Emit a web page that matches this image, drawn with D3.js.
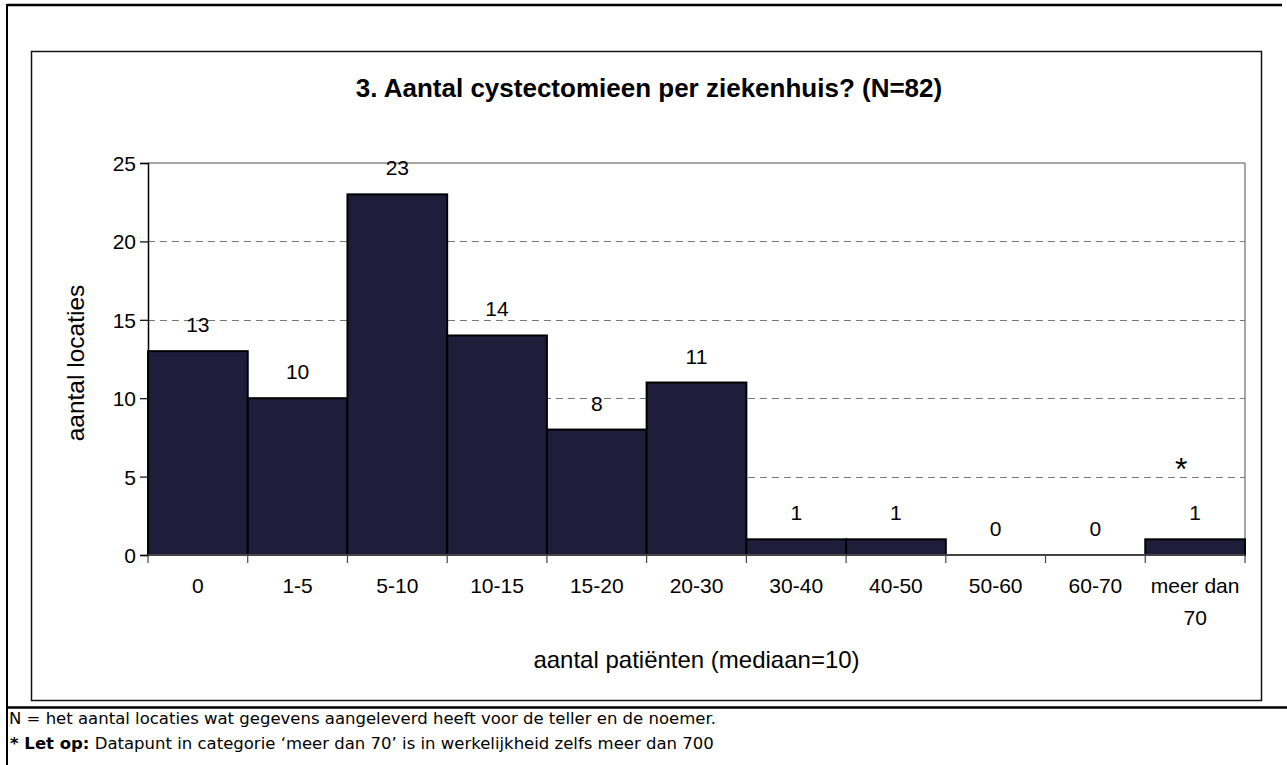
<!DOCTYPE html>
<html>
<head>
<meta charset="utf-8">
<script src="https://cdn.jsdelivr.net/npm/d3@7"></script>
<style>
  body { margin: 0; background: #fff; }
  svg { display: block; }
  .lbl { font-family: "Liberation Sans", Arial, sans-serif; font-size: 21px; fill: #000; }
  .foot { font-family: "DejaVu Sans", Verdana, sans-serif; font-size: 16.5px; fill: #000; }
</style>
</head>
<body>
<svg id="chart" width="1287" height="765"></svg>
<script>
// categories (aantal patienten) and number of locations
var categories = ["0", "1-5", "5-10", "10-15", "15-20", "20-30", "30-40", "40-50", "50-60", "60-70", "meer dan 70"];
var counts = [13, 10, 23, 14, 8, 11, 1, 1, 0, 0, 1];
var yTicks = [0, 5, 10, 15, 20, 25];

var title = "3. Aantal cystectomieen per ziekenhuis? (N=82)";
var xTitle = "aantal patiënten (mediaan=10)";
var yTitle = "aantal locaties";
var noteMark = { category: "meer dan 70", value: 6, text: "*" };
var footLine1 = "N = het aantal locaties wat gegevens aangeleverd heeft voor de teller en de noemer.";
var footLine2 = "Datapunt in categorie \u2018meer dan 70\u2019 is in werkelijkheid zelfs meer dan 700";

var svg = d3.select("#chart");

//***************************************************************************
// frames

svg.append("line").attr("x1", 7).attr("x2", 1282).attr("y1", 5).attr("y2", 5)
    .attr("stroke", "#000").attr("stroke-width", 2.5);
svg.append("line").attr("x1", 7).attr("x2", 7).attr("y1", 4).attr("y2", 765)
    .attr("stroke", "#000").attr("stroke-width", 2);
svg.append("line").attr("x1", 7).attr("x2", 1287).attr("y1", 707.5).attr("y2", 707.5)
    .attr("stroke", "#000").attr("stroke-width", 2.5);

svg.append("rect").attr("x", 31.5).attr("y", 51.5).attr("width", 1230).attr("height", 649)
    .attr("fill", "none").attr("stroke", "#111").attr("stroke-width", 1.5);

//***************************************************************************
// scales

var plotL = 148, plotR = 1245, plotT = 163, plotB = 555;

var x = d3.scaleBand()
    .domain(categories)
    .range([plotL, plotR])
    .padding(0);

var y = d3.scaleLinear()
    .domain([0, 25])
    .range([plotB, plotT]);

var plot = svg.append("g");

// plot area border (top + right, grey)
plot.append("line").attr("x1", plotL).attr("x2", plotR).attr("y1", plotT).attr("y2", plotT)
    .attr("stroke", "#888").attr("stroke-width", 1.5);
plot.append("line").attr("x1", plotR).attr("x2", plotR).attr("y1", plotT).attr("y2", plotB)
    .attr("stroke", "#888").attr("stroke-width", 1.5);

// dashed gridlines
plot.selectAll("line.grid")
    .data(yTicks.filter(function(d) { return d > 0 && d < 25; }))
    .enter().append("line")
    .attr("class", "grid")
    .attr("x1", plotL).attr("x2", plotR)
    .attr("y1", function(d) { return Math.round(y(d)) + 0.5; })
    .attr("y2", function(d) { return Math.round(y(d)) + 0.5; })
    .attr("stroke", "#777").attr("stroke-width", 1)
    .attr("stroke-dasharray", "7,5");

//***************************************************************************
// bars

plot.selectAll("rect.bar")
    .data(counts)
    .enter().append("rect")
    .attr("class", "bar")
    .attr("x", function(d, i) { return x(categories[i]); })
    .attr("width", x.bandwidth())
    .attr("y", function(d) { return y(d); })
    .attr("height", function(d) { return plotB - y(d); })
    .attr("fill", "#201d3b")
    .attr("stroke", "#000")
    .attr("stroke-width", 2)
    .style("display", function(d) { return d > 0 ? null : "none"; });

// value labels
plot.selectAll("text.val")
    .data(counts)
    .enter().append("text")
    .attr("class", "lbl val")
    .attr("x", function(d, i) { return x(categories[i]) + x.bandwidth() / 2; })
    .attr("y", function(d) { return y(d) - 19; })
    .attr("text-anchor", "middle")
    .text(function(d) { return d; });

// asterisk note with white box over the gridline
var nx = x(noteMark.category) + x.bandwidth() / 2 - 14;
var ny = y(noteMark.value);
plot.append("rect")
    .attr("x", nx - 38).attr("y", ny - 12).attr("width", 76).attr("height", 24)
    .attr("fill", "#fff");
plot.append("text")
    .attr("class", "lbl")
    .attr("x", nx).attr("y", ny + 19)
    .attr("text-anchor", "middle")
    .style("font-size", "32px")
    .text(noteMark.text);

//***************************************************************************
// axes

var yAxis = d3.axisLeft(y)
    .tickValues(yTicks)
    .tickSize(8)
    .tickPadding(4);

var gy = svg.append("g")
    .attr("transform", "translate(" + plotL + ",0)")
    .call(yAxis);
gy.select(".domain").attr("stroke", "#000").attr("stroke-width", 1.5);
gy.selectAll(".tick line").attr("stroke", "#000").attr("stroke-width", 1.2);
gy.selectAll(".tick text")
    .attr("class", "lbl")
    .attr("dy", "0.36em")
    .attr("fill", "#000");

// x axis line + ticks at category boundaries
var gx = svg.append("g");
gx.append("line")
    .attr("x1", plotL).attr("x2", plotR)
    .attr("y1", plotB).attr("y2", plotB)
    .attr("stroke", "#444").attr("stroke-width", 2);
var bounds = categories.map(function(c) { return x(c); }).concat([x.range()[1]]);
gx.selectAll("line.tk")
    .data(bounds)
    .enter().append("line")
    .attr("class", "tk")
    .attr("x1", function(d) { return d; }).attr("x2", function(d) { return d; })
    .attr("y1", plotB).attr("y2", plotB + 8)
    .attr("stroke", "#444").attr("stroke-width", 1.2);

// tick labels, wrapped when wider than the band
gx.selectAll("text.xl")
    .data(categories)
    .enter().append("text")
    .attr("class", "lbl xl")
    .attr("text-anchor", "middle")
    .attr("x", function(d) { return x(d) + x.bandwidth() / 2; })
    .attr("y", plotB + 38)
    .each(function(d) {
        var t = d3.select(this);
        t.text(d);
        if (this.getComputedTextLength() > x.bandwidth() - 4) {
            var k = d.lastIndexOf(" ");
            t.text(null);
            t.append("tspan").attr("x", t.attr("x")).text(d.slice(0, k));
            t.append("tspan").attr("x", t.attr("x")).attr("dy", 32).text(d.slice(k + 1));
        }
    });

//***************************************************************************
// titles

svg.append("text")
    .attr("class", "lbl")
    .attr("x", 649).attr("y", 97)
    .attr("text-anchor", "middle")
    .style("font-size", "26px")
    .style("font-weight", "bold")
    .text(title);

svg.append("text")
    .attr("class", "lbl")
    .attr("x", (plotL + plotR) / 2).attr("y", 668)
    .attr("text-anchor", "middle")
    .style("font-size", "24px")
    .text(xTitle);

svg.append("text")
    .attr("class", "lbl")
    .attr("transform", "translate(84," + 363 + ") rotate(-90)")
    .attr("text-anchor", "middle")
    .style("font-size", "24.5px")
    .text(yTitle);

//***************************************************************************
// footnote

svg.append("text").attr("class", "foot")
    .attr("x", 9).attr("y", 724)
    .text(footLine1);

var f2 = svg.append("text").attr("class", "foot")
    .attr("x", 10).attr("y", 749);
f2.append("tspan").style("font-weight", "bold").text("* Let op:");
f2.append("tspan").text(" " + footLine2);
</script>
</body>
</html>
